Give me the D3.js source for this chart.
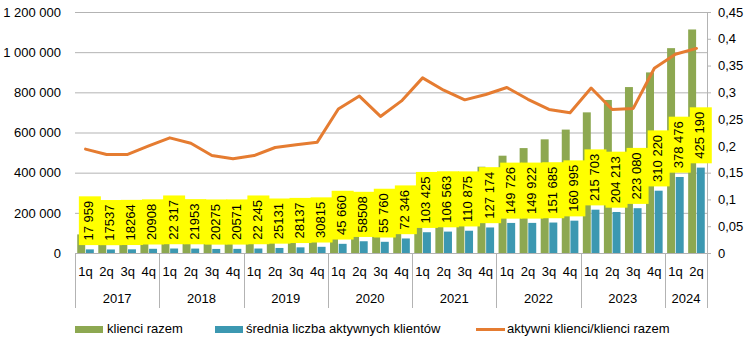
<!DOCTYPE html>
<html><head><meta charset="utf-8">
<script src="https://cdn.jsdelivr.net/npm/d3@7/dist/d3.min.js"></script>
<style>
html,body{margin:0;padding:0;background:#fff;}
text{font-family:"Liberation Sans",Arial,sans-serif;fill:#000;}
</style></head>
<body>
<svg id="c" width="750" height="347"></svg>
<script>
const years = ["2017","2018","2019","2020","2021","2022","2023","2024"];
const quarters = ["1q","2q","3q","4q","1q","2q","3q","4q","1q","2q","3q","4q","1q","2q","3q","4q","1q","2q","3q","4q","1q","2q","3q","4q","1q","2q","3q","4q","1q","2q"];
const quarterYear = [0,0,0,0,1,1,1,1,2,2,2,2,3,3,3,3,4,4,4,4,5,5,5,5,6,6,6,6,7,7];
const klienciRazem = [92600,95300,99300,104500,103800,107100,111400,116900,122200,127600,139300,148900,169700,199700,218700,254700,316300,350500,387700,429600,484500,522400,566000,614500,700300,762000,826200,899200,1020000,1113000];
const aktywni = [17959,17537,18264,20908,22317,21953,20275,20571,22245,25131,28137,30815,45660,58508,55760,72346,103425,106563,110875,127174,149726,149922,151685,160995,215703,204213,223080,310220,378476,425190];
const aktywniLabels = ["17 959","17537","18264","20908","22 317","21953","20275","20571","22 245","25131","28137","30815","45 660","58508","55 760","72 346","103 425","106 563","110 875","127 174","149 726","149 922","151 685","160 995","215 703","204 213","223 080","310 220","378 476","425 190"];
const ratio = [0.194,0.184,0.184,0.200,0.215,0.205,0.182,0.176,0.182,0.197,0.202,0.207,0.269,0.293,0.255,0.284,0.327,0.304,0.286,0.296,0.309,0.287,0.268,0.262,0.308,0.268,0.270,0.345,0.371,0.382];
const leftTicks = [0,200000,400000,600000,800000,1000000,1200000];
const rightTicks = [0,0.05,0.1,0.15,0.2,0.25,0.3,0.35,0.4,0.45];
const seriesNames = ["klienci razem","średnia liczba aktywnych klientów","aktywni klienci/klienci razem"];

const C_GREEN="#8DA851", C_BLUE="#3C98B1", C_ORANGE="#E57C31", C_GRID="#B3B3B3";
const svg = d3.select("#c");
const L=75, R=707, T=12, B=253;
const idx = d3.range(quarters.length);
const x = d3.scaleBand().domain(idx).range([L,R]).padding(0);
const xs = d3.scaleBand().domain(["g","b"]).range([-8.3,8.3]).paddingInner(0.08);
const yL = d3.scaleLinear().domain([0,1200000]).range([B,T]);
const yR = d3.scaleLinear().domain([0,0.45]).range([B,T]);
const fmtL = v => d3.format(",")(v).replace(/,/g," ");
const fmtR = v => v===0 ? "0" : String(+v.toFixed(2)).replace(".",",");

// gridlines
const grid = svg.append("g").attr("transform",`translate(${L},0)`)
  .call(d3.axisLeft(yL).tickValues(leftTicks).tickSize(-(R-L)).tickFormat(""));
grid.select(".domain").remove();
grid.selectAll("line").attr("stroke",C_GRID).attr("stroke-width",1);

// left axis labels
const la = svg.append("g").attr("transform",`translate(${L},0)`)
  .call(d3.axisLeft(yL).tickValues(leftTicks).tickSize(0).tickPadding(14).tickFormat(fmtL));
la.select(".domain").remove();
la.selectAll("text").attr("font-size",13).attr("font-family","Liberation Sans, Arial, sans-serif").attr("fill","#000");

// right axis
const ra = svg.append("g").attr("transform",`translate(${R},0)`)
  .call(d3.axisRight(yR).tickValues(rightTicks).tickSize(4).tickPadding(7).tickFormat(fmtR));
ra.select(".domain").attr("stroke",C_GRID);
ra.selectAll("line").attr("stroke",C_GRID);
ra.selectAll("text").attr("font-size",13).attr("font-family","Liberation Sans, Arial, sans-serif").attr("fill","#000");

// bars
const cx = i => x(i) + x.bandwidth()/2;
svg.append("g").selectAll("rect").data(idx).join("rect")
  .attr("x",i=>cx(i)+xs("g")).attr("width",xs.bandwidth())
  .attr("y",i=>yL(klienciRazem[i])).attr("height",i=>B-yL(klienciRazem[i]))
  .attr("fill",C_GREEN);
svg.append("g").selectAll("rect").data(idx).join("rect")
  .attr("x",i=>cx(i)+xs("b")).attr("width",xs.bandwidth())
  .attr("y",i=>yL(aktywni[i])).attr("height",i=>B-yL(aktywni[i]))
  .attr("fill",C_BLUE);

// bottom axis line
svg.append("line").attr("x1",L).attr("x2",R).attr("y1",B+0.5).attr("y2",B+0.5).attr("stroke",C_GRID);
// year separators
const sepIdx = [];
quarterYear.forEach((y,i)=>{ if(i===0 || quarterYear[i-1]!==y) sepIdx.push(x(i)); });
sepIdx.push(R);
svg.append("g").selectAll("line").data(sepIdx).join("line")
  .attr("x1",d=>Math.round(d)+0.5).attr("x2",d=>Math.round(d)+0.5)
  .attr("y1",B).attr("y2",308).attr("stroke",C_GRID);
// quarter labels
svg.append("g").selectAll("text").data(idx).join("text")
  .attr("x",i=>cx(i)).attr("y",273).attr("text-anchor","middle").attr("dominant-baseline","middle")
  .attr("font-size",13).text(i=>quarters[i]);
// year labels
svg.append("g").selectAll("text").data(years).join("text")
  .attr("x",(d,k)=>{const ii=idx.filter(i=>quarterYear[i]===k); return (x(ii[0])+x(ii[ii.length-1])+x.bandwidth())/2;})
  .attr("y",300).attr("text-anchor","middle").attr("dominant-baseline","middle")
  .attr("font-size",13).text(d=>d);

// data labels
const lg = svg.append("g");
idx.forEach(i=>{
  const bx = cx(i)+xs("b")+xs.bandwidth()/2;
  const top = yL(aktywni[i]) - 4.3;
  const g = lg.append("g");
  const r = g.append("rect").attr("fill","#FFFF00");
  const t = g.append("text").attr("font-size",13).attr("text-anchor","middle").attr("dominant-baseline","middle")
    .text(aktywniLabels[i]);
  const len = t.node().getComputedTextLength();
  const h = len + 9;
  r.attr("x",bx-11).attr("width",22).attr("y",top-h).attr("height",h);
  t.attr("transform",`translate(${bx},${top-h/2}) rotate(-90)`);
});

// line
svg.append("path").datum(idx)
  .attr("fill","none").attr("stroke",C_ORANGE).attr("stroke-width",3).attr("stroke-linejoin","round").attr("stroke-linecap","round")
  .attr("d",d3.line().x(i=>cx(i)).y(i=>yR(ratio[i])));

// legend
const LY = 329.5;
svg.append("rect").attr("x",75).attr("y",LY-3.5).attr("width",28).attr("height",7).attr("fill",C_GREEN);
svg.append("text").attr("x",107).attr("y",LY).attr("dominant-baseline","middle").attr("font-size",13).text(seriesNames[0]);
svg.append("rect").attr("x",215).attr("y",LY-3.5).attr("width",28).attr("height",7).attr("fill",C_BLUE);
svg.append("text").attr("x",246).attr("y",LY).attr("dominant-baseline","middle").attr("font-size",13).text(seriesNames[1]);
svg.append("line").attr("x1",476).attr("x2",505).attr("y1",LY).attr("y2",LY).attr("stroke",C_ORANGE).attr("stroke-width",3);
svg.append("text").attr("x",507).attr("y",LY).attr("dominant-baseline","middle").attr("font-size",13).text(seriesNames[2]);
</script>
</body></html>
